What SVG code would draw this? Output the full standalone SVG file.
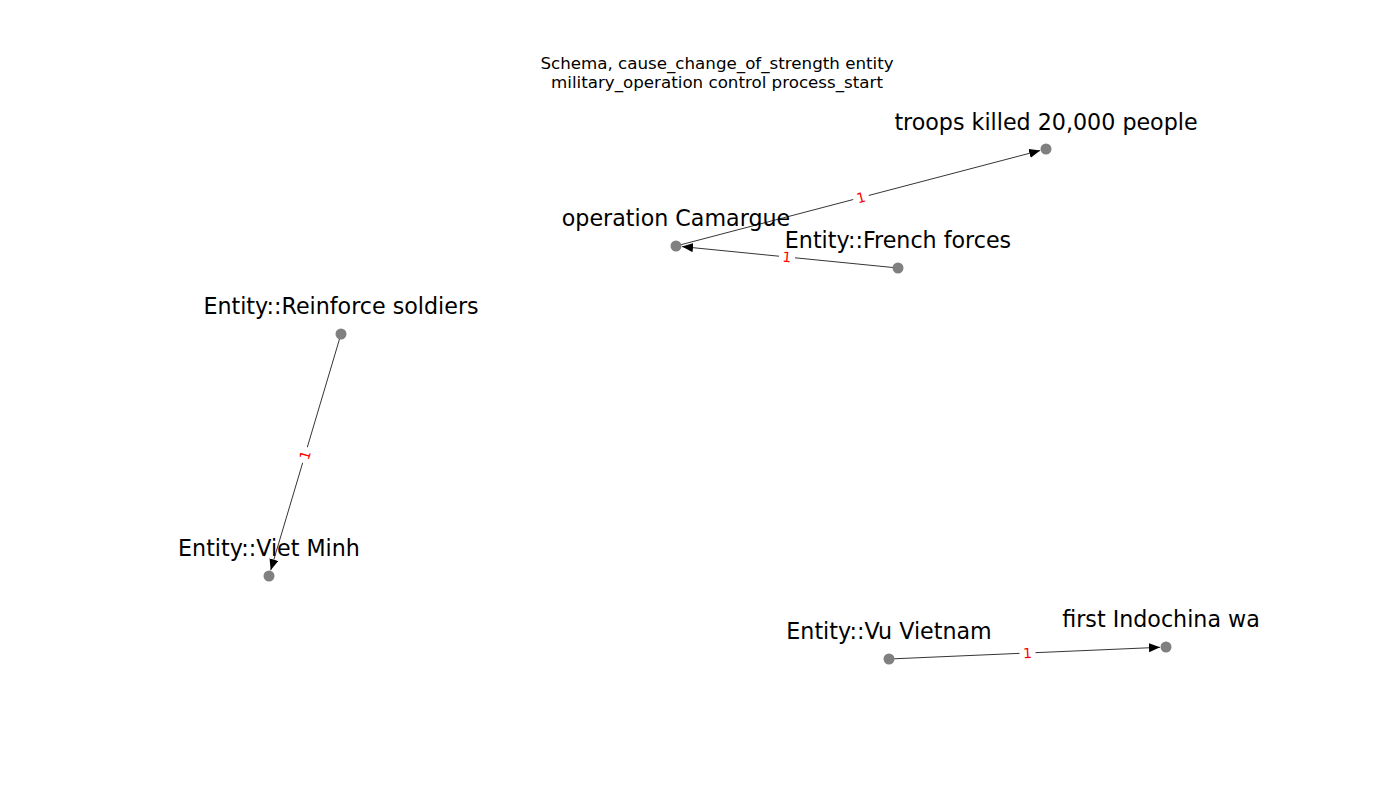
<svg xmlns="http://www.w3.org/2000/svg" width="1400" height="800" viewBox="0 0 1400 800">
<style>
.node{fill:#808080}
.nl{font-family:"DejaVu Sans",sans-serif;font-size:22.2px;fill:#000;text-anchor:middle}
.title{font-family:"DejaVu Sans",sans-serif;font-size:16.7px;fill:#000;text-anchor:middle}
.edge{stroke:#000;stroke-width:0.8;fill:none;marker-end:url(#arr)}
.el{font-family:"DejaVu Sans",sans-serif;font-size:13.9px;fill:#ff0000;text-anchor:middle}
.elbg{fill:#fff}
</style>
<defs>
<marker id="arr" markerUnits="userSpaceOnUse" markerWidth="13" markerHeight="10" refX="11" refY="4.5" orient="auto">
<path d="M0,0 L11,4.5 L0,9 z" fill="#000"/>
</marker>
</defs>
<rect width="1400" height="800" fill="#fff"/>
<text class="title" x="717" y="69">Schema, cause_change_of_strength entity</text>
<text class="title" x="717" y="88">military_operation control process_start</text>
<g id="edges">
<line class="edge" x1="676" y1="246" x2="1040.2" y2="150.5"/>
<line class="edge" x1="898" y1="268" x2="682" y2="246.6"/>
<line class="edge" x1="341" y1="334" x2="270.7" y2="570.2"/>
<line class="edge" x1="889" y1="659" x2="1160" y2="647.3"/>
<g transform="translate(861,197.5) rotate(-14.7)"><rect class="elbg" x="-8" y="-8" width="16" height="16"/><text class="el" x="0" y="5">1</text></g>
<g transform="translate(787,257) rotate(5.7)"><rect class="elbg" x="-8" y="-8" width="16" height="16"/><text class="el" x="0" y="5">1</text></g>
<g transform="translate(305,455) rotate(-73.4)"><rect class="elbg" x="-8" y="-8" width="16" height="16"/><text class="el" x="0" y="5">1</text></g>
<g transform="translate(1027.5,653) rotate(-2.5)"><rect class="elbg" x="-8" y="-8" width="16" height="16"/><text class="el" x="0" y="5">1</text></g>
</g>
<g id="n-troops"><circle class="node" cx="1046" cy="149" r="5.5"/><text class="nl" x="1046" y="130">troops killed 20,000 people</text></g>
<g id="n-camargue"><circle class="node" cx="676" cy="246" r="5.5"/><text class="nl" x="676" y="226">operation Camargue</text></g>
<g id="n-french"><circle class="node" cx="898" cy="268" r="5.5"/><text class="nl" x="898" y="248">Entity::French forces</text></g>
<g id="n-reinforce"><circle class="node" cx="341" cy="334" r="5.5"/><text class="nl" x="341" y="314">Entity::Reinforce soldiers</text></g>
<g id="n-vietminh"><circle class="node" cx="269" cy="576" r="5.5"/><text class="nl" x="269" y="556">Entity::Viet Minh</text></g>
<g id="n-vuvietnam"><circle class="node" cx="889" cy="659" r="5.5"/><text class="nl" x="889" y="639">Entity::Vu Vietnam</text></g>
<g id="n-indochina"><circle class="node" cx="1166" cy="647" r="5.5"/><text class="nl" x="1161" y="627">first Indochina wa</text></g>
</svg>
